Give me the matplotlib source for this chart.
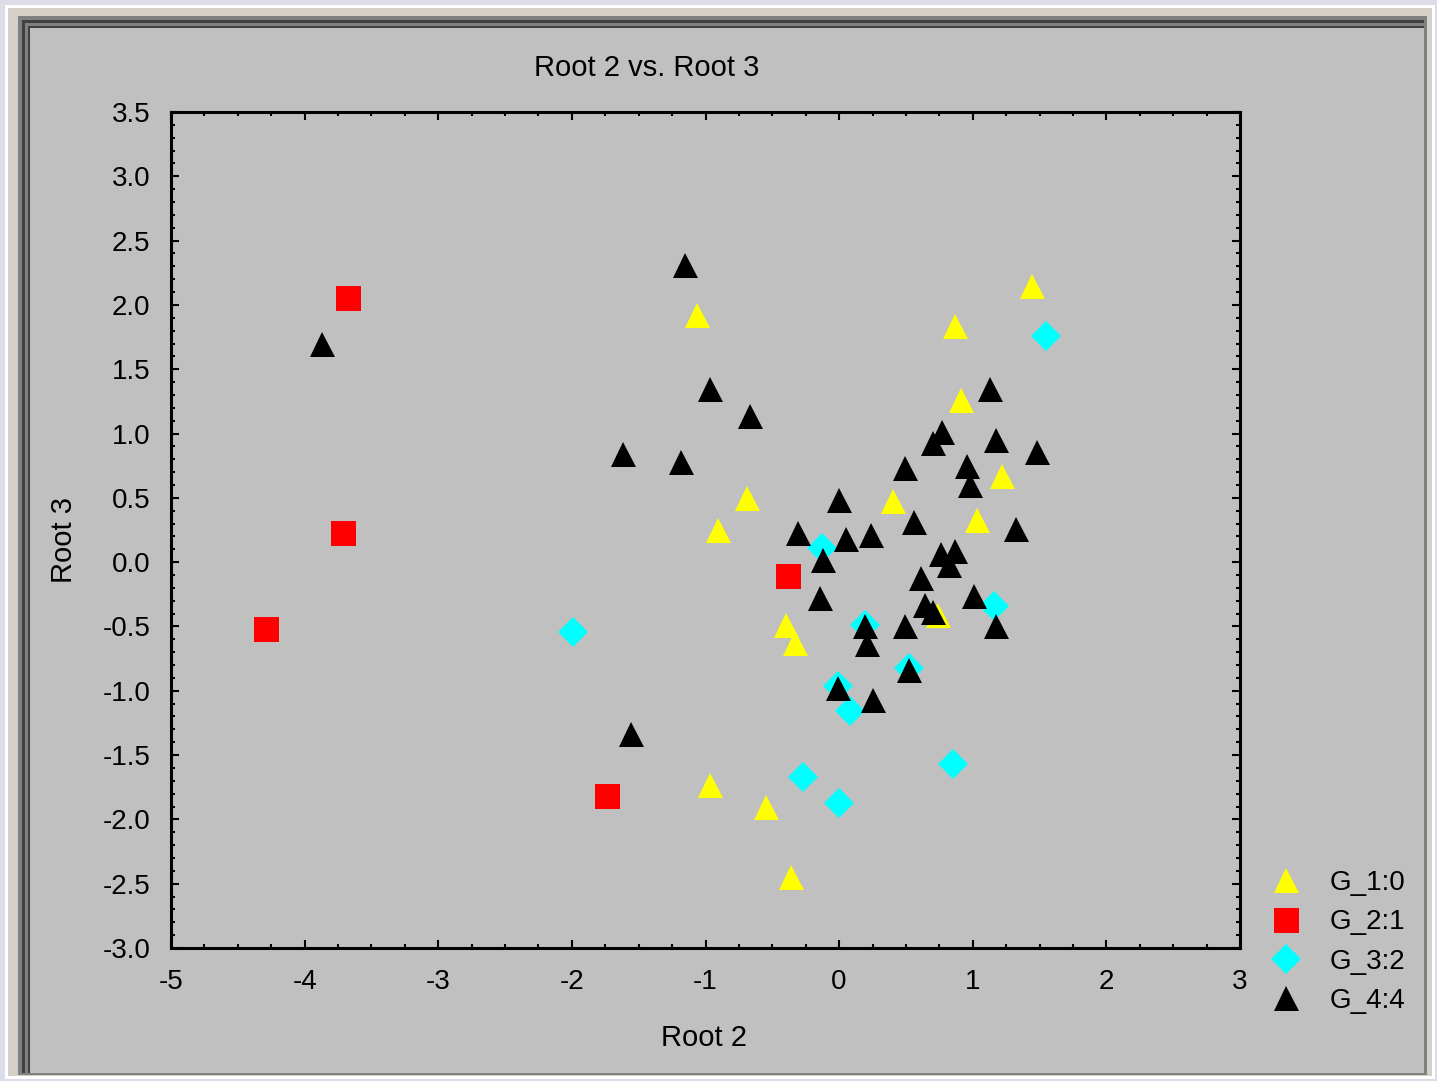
import matplotlib.pyplot as plt
from matplotlib.patches import Rectangle
from matplotlib.ticker import MultipleLocator, FormatStrFormatter

plt.rcParams['font.family'] = ['Liberation Sans', 'DejaVu Sans']
plt.rcParams['axes.unicode_minus'] = False

# data
g1_x = [1.44, -1.06, 0.87, 0.91, -0.69, 0.40, 1.22, 1.03, -0.905, -0.40, -0.33, 0.74, -0.97, -0.55, -0.36]
g1_y = [2.15, 1.92, 1.84, 1.26, 0.50, 0.475, 0.67, 0.33, 0.25, -0.49, -0.63, -0.41, -1.73, -1.90, -2.45]

g2_x = [-3.675, -3.71, -4.29, -0.38, -1.74]
g2_y = [2.05, 0.23, -0.52, -0.11, -1.82]

g3_x = [1.55, -1.99, -0.13, 1.16, 0.19, 0.52, -0.01, 0.08, -0.27, 0.0, 0.85]
g3_y = [1.76, -0.54, 0.11, -0.34, -0.49, -0.82, -0.96, -1.16, -1.67, -1.87, -1.57]

g4_x = [-1.15, -3.87, -0.97, -0.67, -1.62, -1.18, 1.13, 0.77, 0.70, 1.175, 1.48,
        0.49, 0.96, 0.98, 0.0, -0.31, 0.05, 0.24, 0.56, 1.32, -0.12, 0.76, 0.87,
        0.82, 0.61, 0.64, 0.70, -0.14, 1.01, 1.175, 0.49, 0.19, 0.21, 0.52, -0.01,
        0.25, -1.56]
g4_y = [2.31, 1.70, 1.35, 1.14, 0.84, 0.78, 1.35, 1.01, 0.93, 0.95, 0.86,
        0.73, 0.75, 0.60, 0.48, 0.23, 0.18, 0.21, 0.31, 0.26, 0.02, 0.06, 0.09,
        -0.02, -0.12, -0.33, -0.39, -0.28, -0.26, -0.50, -0.50, -0.50, -0.64, -0.84, -0.98,
        -1.07, -1.34]

group_names = ['G_1:0', 'G_2:1', 'G_3:2', 'G_4:4']

W, H = 1437, 1081
fig = plt.figure(figsize=(W / 100, H / 100), dpi=100)
fig.patch.set_facecolor('#dcdce8')


def px_rect(x0, y0, x1, y1, color):
    # rectangle given in pixel coords (origin top-left)
    fig.patches.append(Rectangle((x0 / W, 1 - y1 / H), (x1 - x0) / W, (y1 - y0) / H,
                                 transform=fig.transFigure, facecolor=color,
                                 edgecolor='none', zorder=-10))


# window frame
px_rect(5, 5, 1435, 1079, 'white')
px_rect(8, 8, 1432, 1076, '#d4d0c8')
px_rect(18, 16, 1427, 1075, '#808080')
px_rect(22, 20, 1424, 1073, '#404040')
px_rect(25, 23, 1424, 1073, '#808080')
px_rect(28, 26, 1424, 1073, '#404040')
px_rect(30, 28, 1424, 1073, '#c0c0c0')

ax = fig.add_axes([171 / W, 1 - 948 / H, (1240 - 171) / W, (948 - 112) / H])
ax.set_facecolor('#c0c0c0')

ms = 18
ax.plot(g1_x, g1_y, '^', color='#ffff00', ms=ms, mew=0, label=group_names[0])
ax.plot(g2_x, g2_y, 's', color='#ff0000', ms=ms, mew=0, label=group_names[1])
ax.plot(g3_x, g3_y, 'D', color='#00ffff', ms=15.5, mew=0, label=group_names[2])
ax.plot(g4_x, g4_y, '^', color='black', ms=ms, mew=0, label=group_names[3])

ax.set_xlim(-5, 3)
ax.set_ylim(-3, 3.5)
ax.xaxis.set_major_locator(MultipleLocator(1))
ax.xaxis.set_minor_locator(MultipleLocator(0.25))
ax.yaxis.set_major_locator(MultipleLocator(0.5))
ax.yaxis.set_minor_locator(MultipleLocator(0.1))
ax.yaxis.set_major_formatter(FormatStrFormatter('%.1f'))

for s in ax.spines.values():
    s.set_linewidth(2.2)
ax.tick_params(which='both', direction='in', top=True, right=True, width=1.5,
               labelsize=20, pad=15)
ax.tick_params(which='major', length=6)
ax.tick_params(which='minor', length=3)

fig.text(647 / W, 1 - 68 / H, 'Root 2 vs. Root 3', ha='center', va='center', fontsize=21)
fig.text(704 / W, 1 - 1038 / H, 'Root 2', ha='center', va='center', fontsize=21)
fig.text(64 / W, 1 - 540 / H, 'Root 3', ha='center', va='center', fontsize=21, rotation=90)

fig.legend(loc='upper left', bbox_to_anchor=(1269 / W, 1 - 870 / H), frameon=False,
           fontsize=20, numpoints=1, handlelength=1.2, handletextpad=1.0,
           labelspacing=0.48, borderpad=0, borderaxespad=0)

fig.savefig('out.png', dpi=100, facecolor=fig.get_facecolor())
